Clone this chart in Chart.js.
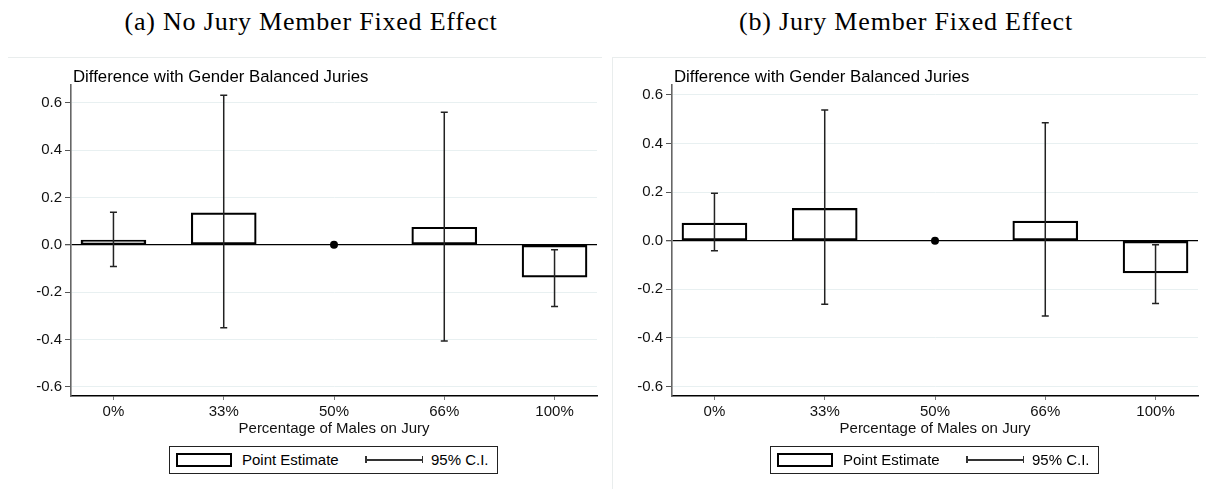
<!DOCTYPE html>
<html><head><meta charset="utf-8">
<script src="https://cdn.jsdelivr.net/npm/chart.js@4.4.1/dist/chart.umd.min.js"></script>
<style>
body{margin:0;width:1206px;height:489px;background:#fff;position:relative;overflow:hidden;font-family:"Liberation Sans",Arial,sans-serif;color:#000}
.ptitle{position:absolute;top:9px;line-height:26px;font-family:"Liberation Serif",serif;font-size:26px;letter-spacing:0.8px;white-space:nowrap;transform:translateX(-50%)}
canvas{position:absolute;top:0}
.frame{position:absolute;top:57px;height:440px;border-top:1px solid #e9eded}
.legend{position:absolute;top:446px;width:329px;height:28px;box-sizing:border-box;border:1px solid #222;background:#fff}
.legend .sw{position:absolute;left:6px;top:6px;width:56px;height:14px;box-sizing:border-box;border:2px solid #000;background:#fff}
.legend .tx{position:absolute;top:0;line-height:26px;font-size:15px;white-space:nowrap}
.legend .ci{position:absolute;left:195px;top:12px;width:58px;height:1.5px;background:#333}
.legend .ci:before,.legend .ci:after{content:"";position:absolute;top:-3px;width:1.5px;height:7px;background:#333}
.legend .ci:before{left:0}.legend .ci:after{right:0}
</style>
</head><body>
<div class="frame" style="left:8px;width:594px"></div>
<div class="frame" style="left:612px;width:594px;border-left:1px solid #e9eded"></div>
<div class="ptitle" id="ta" style="left:311px"></div>
<div class="ptitle" id="tb" style="left:906px"></div>
<canvas id="c1" width="603" height="489" style="left:0"></canvas>
<canvas id="c2" width="603" height="489" style="left:601px"></canvas>
<div id="legends"></div>
<script>
// ---- data ----
const categories = ["0%", "33%", "50%", "66%", "100%"];
const yTicks = [-0.6, -0.4, -0.2, 0.0, 0.2, 0.4, 0.6];
const panelTitles = ["(a) No Jury Member Fixed Effect", "(b) Jury Member Fixed Effect"];
const yTitle = "Difference with Gender Balanced Juries";
const xTitle = "Percentage of Males on Jury";
const legendLabels = ["Point Estimate", "95% C.I."];
const refIndex = 2;      // 50% = reference category (drawn as a dot at 0)
const refValue = 0;

// (a) No jury member fixed effect
const estA = [0.020, 0.135, null, 0.074, -0.137];
const loA  = [-0.092, -0.351, null, -0.407, -0.261];
const hiA  = [0.137, 0.632, null, 0.560, -0.021];
// (b) Jury member fixed effect
const estB = [0.073, 0.133, null, 0.081, -0.132];
const loB  = [-0.041, -0.261, null, -0.310, -0.258];
const hiB  = [0.195, 0.538, null, 0.486, -0.016];

document.getElementById('ta').textContent = panelTitles[0];
document.getElementById('tb').textContent = panelTitles[1];

function buildLegend(left){
  const d = document.createElement('div');
  d.className = 'legend'; d.style.left = left + 'px';
  const sw = document.createElement('div'); sw.className = 'sw'; d.appendChild(sw);
  const t1 = document.createElement('div'); t1.className = 'tx'; t1.style.left = '72px'; t1.textContent = legendLabels[0]; d.appendChild(t1);
  const ci = document.createElement('div'); ci.className = 'ci'; d.appendChild(ci);
  const t2 = document.createElement('div'); t2.className = 'tx'; t2.style.left = '261px'; t2.textContent = legendLabels[1]; d.appendChild(t2);
  document.getElementById('legends').appendChild(d);
}
buildLegend(169);
buildLegend(770);

const FONT = "'Liberation Sans', Arial, sans-serif";

function makeChart(id, est, lo, hi, yMin, yMax){
  const ciPlugin = {
    id: 'ci',
    afterDatasetsDraw(chart){
      const {ctx, scales:{x, y}} = chart;
      ctx.save();
      ctx.strokeStyle = '#222';
      ctx.lineWidth = 1.5;
      for (let i = 0; i < categories.length; i++){
        if (lo[i] == null) continue;
        const px = x.getPixelForValue(i);
        const y1 = y.getPixelForValue(lo[i]), y2 = y.getPixelForValue(hi[i]);
        ctx.beginPath();
        ctx.moveTo(px, y1); ctx.lineTo(px, y2);
        ctx.moveTo(px - 3.5, y1); ctx.lineTo(px + 3.5, y1);
        ctx.moveTo(px - 3.5, y2); ctx.lineTo(px + 3.5, y2);
        ctx.stroke();
      }
      // reference dot on top
      const rx = x.getPixelForValue(refIndex), ry = y.getPixelForValue(refValue);
      ctx.fillStyle = '#000';
      ctx.beginPath(); ctx.arc(rx, ry, 4, 0, Math.PI*2); ctx.fill();
      ctx.restore();
    },
    afterDraw(chart){
      const {ctx, chartArea} = chart;
      ctx.save();
      ctx.font = '16.8px ' + FONT;
      ctx.fillStyle = '#000';
      ctx.textBaseline = 'middle';
      ctx.textAlign = 'left';
      ctx.fillText(yTitle, chartArea.left + 2, chartArea.top - 8);
      ctx.restore();
    }
  };
  return new Chart(document.getElementById(id), {
    type: 'bar',
    data: {
      datasets: [{
        data: est.map((v, i) => v == null ? null : {x: i, y: v}).filter(p => p),
        backgroundColor: '#fff',
        borderColor: '#000',
        borderWidth: 2.2,
        borderSkipped: false,
        barThickness: 65
      }]
    },
    options: {
      responsive: false,
      animation: false,
      devicePixelRatio: 1,
      layout: {padding: {left: 0, top: 85, right: 6, bottom: 51}},
      plugins: {legend: {display: false}, tooltip: {enabled: false}},
      scales: {
        x: {
          type: 'linear', min: -0.385, max: 4.385, offset: false,
          afterBuildTicks: s => { s.ticks = categories.map((c, i) => ({value: i})); },
          afterFit: s => { s.height = 42; },
          ticks: {callback: v => categories[v], font: {size: 15, family: FONT}, color: '#111', padding: 3, maxRotation: 0, autoSkip: false},
          grid: {display: true, drawOnChartArea: false, drawTicks: true, tickLength: 4, tickColor: '#777', offset: false},
          border: {display: true, color: '#000', width: 1.5},
          title: {display: true, text: xTitle, font: {size: 15, family: FONT}, color: '#111', padding: {top: 0, bottom: 0}}
        },
        y: {
          min: yMin, max: yMax,
          afterBuildTicks: s => { s.ticks = yTicks.map(v => ({value: v})); },
          afterFit: s => { s.width = 71; },
          ticks: {callback: v => Number(v).toFixed(1), font: {size: 15, family: FONT}, color: '#111', padding: 3},
          grid: {
            color: c => (c.tick && Math.abs(c.tick.value) < 1e-9) ? '#000' : '#e8f0f1',
            lineWidth: c => (c.tick && Math.abs(c.tick.value) < 1e-9) ? 1.3 : 1,
            tickLength: 6, tickColor: '#555', drawTicks: true
          },
          border: {display: true, color: '#666', width: 1.6}
        }
      }
    },
    plugins: [ciPlugin]
  });
}

makeChart('c1', estA, loA, hiA, -0.639, 0.675);
makeChart('c2', estB, loB, hiB, -0.639, 0.641);
</script>
</body></html>
